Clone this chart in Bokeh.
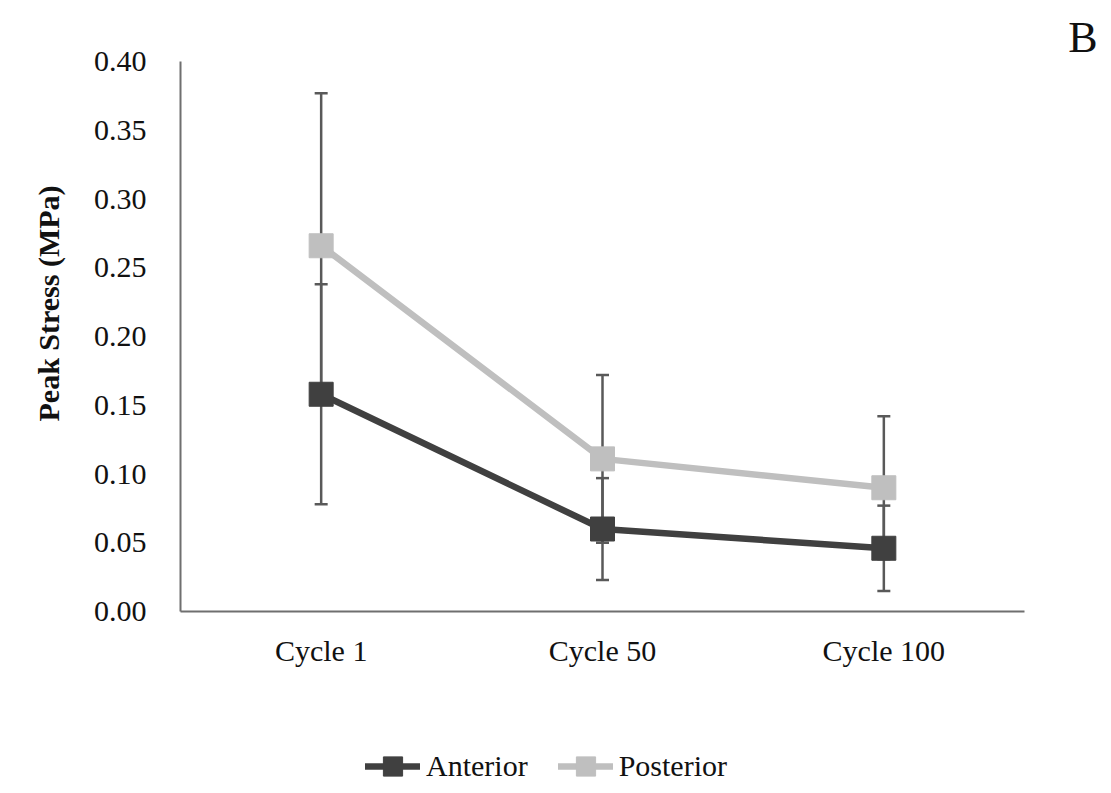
from bokeh.plotting import figure
from bokeh.layouts import column
from bokeh.models import (ColumnDataSource, FactorRange, Range1d, FixedTicker,
                          NumeralTickFormatter, Whisker, TeeHead, Legend,
                          LegendItem, Title)
from bokeh.embed import file_html
from bokeh.resources import INLINE

# Peak stress per loading cycle (mean ± SD), MPa
categories = ["Cycle 1", "Cycle 50", "Cycle 100"]
anterior = [0.158, 0.060, 0.046]
anterior_err = [0.080, 0.037, 0.031]
posterior = [0.266, 0.111, 0.090]
posterior_err = [0.111, 0.061, 0.052]
series_names = ["Anterior", "Posterior"]
y_ticks = [0.00, 0.05, 0.10, 0.15, 0.20, 0.25, 0.30, 0.35, 0.40]

FONT = "Liberation Serif"
TEXT = "#111111"
AXIS = "#6f6f6f"
DARK = "#404040"
LIGHT = "#bfbfbf"
ERR = "#595959"
LINE_W = 6.5
MARKER = 24


def make_source(mean, err):
    return ColumnDataSource(dict(
        x=categories,
        y=mean,
        upper=[m + e for m, e in zip(mean, err)],
        lower=[m - e for m, e in zip(mean, err)],
    ))


sources = [make_source(anterior, anterior_err),
           make_source(posterior, posterior_err)]
colors = [DARK, LIGHT]

x_range = FactorRange(*categories, range_padding=0)

p = figure(width=1111, height=730, output_backend="svg", toolbar_location=None,
           x_range=x_range, y_range=Range1d(0, 0.40),
           min_border_left=180, min_border_right=87,
           min_border_top=61, min_border_bottom=119)
p.outline_line_color = None
p.xgrid.grid_line_color = None
p.ygrid.grid_line_color = None
p.background_fill_color = "white"
p.border_fill_color = "white"

# panel letter in the top-right corner
p.title.text = "B"
p.title.align = "right"
p.title.offset = -73
p.title.standoff = 0
p.title.text_font = FONT
p.title.text_font_size = "44px"
p.title.text_font_style = "normal"
p.title.text_color = TEXT

# axes
p.yaxis.ticker = FixedTicker(ticks=y_ticks)
p.yaxis.formatter = NumeralTickFormatter(format="0.00")
for ax in (p.xaxis[0], p.yaxis[0]):
    ax.axis_line_color = AXIS
    ax.axis_line_width = 2
    ax.major_tick_line_color = None
    ax.minor_tick_line_color = None
    ax.major_label_text_font = FONT
    ax.major_label_text_font_size = "30px"
    ax.major_label_text_color = TEXT
p.yaxis.major_label_standoff = 28
p.xaxis.major_label_standoff = 16

# y-axis title, anchored from the bottom of the frame
p.add_layout(Title(text="Peak Stress (MPa)", align="left", offset=190,
                   standoff=52, text_font=FONT, text_font_size="30px",
                   text_font_style="bold", text_color=TEXT), "left")

# error bars underneath the series
for src in sources:
    w = Whisker(source=src, base="x", upper="upper", lower="lower",
                line_color=ERR, line_width=2.5,
                upper_head=TeeHead(size=13, line_color=ERR, line_width=2.5),
                lower_head=TeeHead(size=13, line_color=ERR, line_width=2.5),
                level="underlay")
    p.add_layout(w)

for src, color in zip(sources, colors):
    p.line("x", "y", source=src, line_color=color, line_width=LINE_W,
           line_join="round", line_cap="round")
    p.scatter("x", "y", source=src, marker="square", size=MARKER,
              fill_color=color, line_color=color, line_width=1)

# legend strip under the chart; its y range sits above the data so the
# series themselves stay out of view and only the legend keys show
leg = figure(width=1111, height=63, output_backend="svg", toolbar_location=None,
             x_axis_type=None, y_axis_type=None, min_border=0,
             x_range=x_range, y_range=Range1d(1, 2))
leg.outline_line_color = None
leg.xgrid.grid_line_color = None
leg.ygrid.grid_line_color = None
items = []
for name, src, color in zip(series_names, sources, colors):
    ln = leg.line("x", "y", source=src, line_color=color, line_width=LINE_W,
                  line_cap="round")
    mk = leg.scatter("x", "y", source=src, marker="square",
                     fill_color=color, line_color=color)
    items.append(LegendItem(label=name, renderers=[ln, mk]))
legend = Legend(items=items, orientation="horizontal", location=(185, 3),
                label_text_font=FONT, label_text_font_size="30px",
                label_text_color=TEXT, glyph_width=55, glyph_height=48,
                label_standoff=6, spacing=30, padding=0, margin=0,
                background_fill_alpha=0, border_line_alpha=0)
leg.add_layout(legend, "center")

layout = column(p, leg, spacing=0)
open("out.html", "w").write(file_html(layout, INLINE))
